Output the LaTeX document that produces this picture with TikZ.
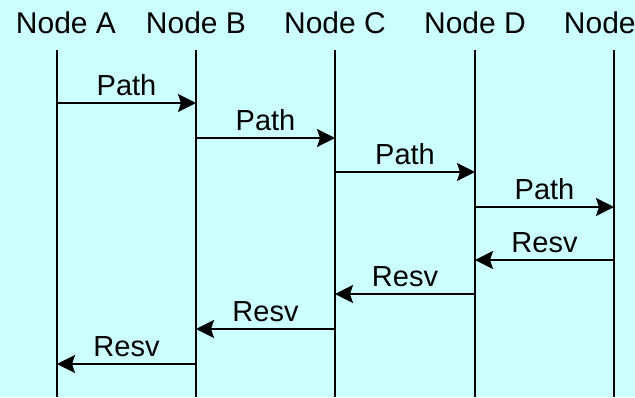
\documentclass[tikz,border=0pt]{standalone}
\usepackage{fontspec}
\setmainfont{Liberation Sans}
\usetikzlibrary{arrows.meta}
\definecolor{bg}{HTML}{CCFFFF}
\begin{document}
\begin{tikzpicture}[x=1pt,y=-1pt, line width=2pt,
  hdr/.style={anchor=base, inner sep=0pt, font=\fontsize{30}{35}\selectfont},
  lbl/.style={anchor=base, inner sep=0pt, font=\fontsize{29}{34}\selectfont, yshift=8pt},
  msg/.style={-{Stealth[length=18pt,width=18pt,inset=3pt]}}]
\fill[bg] (0,0) rectangle (635,397);
\useasboundingbox (0,0) rectangle (635,397);
\node[hdr] (hA) at (66,33) {Node A};
\node[hdr] (hB) at (196,33) {Node B};
\node[hdr] (hC) at (335,33) {Node C};
\node[hdr] (hD) at (475,33) {Node D};
\node[hdr] (hE) at (614,33) {Node E};
\foreach \n/\x in {A/57,B/196,C/335,D/475,E/614} {
  \coordinate (t\n) at (\x,50);
  \coordinate (b\n) at (\x,397);
  \draw (t\n) -- (b\n);
}
% Path messages
\coordinate (p1s) at (57,103);  \coordinate (p1e) at (196,103);
\coordinate (p2s) at (196,138); \coordinate (p2e) at (335,138);
\coordinate (p3s) at (335,172); \coordinate (p3e) at (475,172);
\coordinate (p4s) at (475,207); \coordinate (p4e) at (614,207);
\draw[msg] (p1s) -- node[lbl] (l1) {Path} (p1e);
\draw[msg] (p2s) -- node[lbl] (l2) {Path} (p2e);
\draw[msg] (p3s) -- node[lbl] (l3) {Path} (p3e);
\draw[msg] (p4s) -- node[lbl] (l4) {Path} (p4e);
% Resv messages
\coordinate (r1s) at (614,260); \coordinate (r1e) at (475,260);
\coordinate (r2s) at (475,294); \coordinate (r2e) at (335,294);
\coordinate (r3s) at (335,329); \coordinate (r3e) at (196,329);
\coordinate (r4s) at (196,364); \coordinate (r4e) at (57,364);
\draw[msg] (r1s) -- node[lbl] (m1) {Resv} (r1e);
\draw[msg] (r2s) -- node[lbl] (m2) {Resv} (r2e);
\draw[msg] (r3s) -- node[lbl] (m3) {Resv} (r3e);
\draw[msg] (r4s) -- node[lbl] (m4) {Resv} (r4e);
\end{tikzpicture}
\end{document}
